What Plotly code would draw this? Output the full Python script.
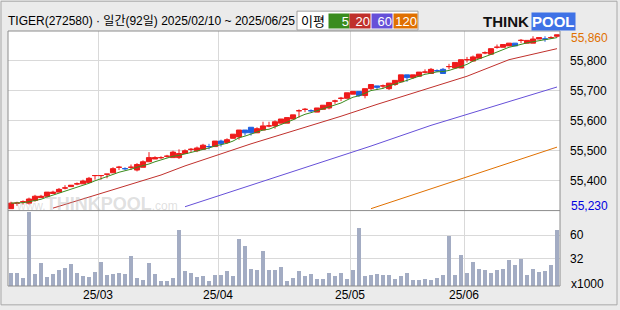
import pandas as pd
import plotly.graph_objects as go

# ---------------- data ----------------
HOLIDAYS = ["2025-03-03", "2025-05-01", "2025-05-05", "2025-05-06", "2025-06-03", "2025-06-06"]
DATES = [d for d in pd.bdate_range("2025-02-10", "2025-06-25") if d.strftime("%Y-%m-%d") not in HOLIDAYS]

OPEN = [55230, 55250, 55255, 55250, 55260, 55270, 55275, 55285, 55290, 55305,
        55310, 55320, 55320, 55325, 55350, 55350, 55355, 55360, 55380, 55375,
        55380, 55370, 55380, 55400, 55410, 55415, 55420, 55415, 55415, 55430,
        55445, 55440, 55445, 55455, 55455, 55475, 55470, 55485, 55490, 55515,
        55525, 55505, 55515, 55530, 55530, 55540, 55540, 55555, 55585, 55590,
        55585, 55580, 55590, 55595, 55620, 55630, 55630, 55645, 55655, 55640,
        55665, 55675, 55675, 55665, 55680, 55690, 55715, 55705, 55710, 55725,
        55720, 55730, 55735, 55745, 55740, 55740, 55770, 55765, 55775, 55795,
        55790, 55815, 55815, 55820, 55830, 55840, 55830, 55830, 55845, 55845,
        55850, 55855]
HIGH = [55255, 55255, 55260, 55270, 55280, 55280, 55290, 55295, 55305, 55315,
        55315, 55325, 55335, 55345, 55350, 55350, 55355, 55380, 55385, 55380,
        55390, 55395, 55405, 55435, 55420, 55420, 55425, 55440, 55445, 55445,
        55450, 55455, 55465, 55465, 55475, 55480, 55485, 55500, 55515, 55515,
        55525, 55525, 55545, 55545, 55550, 55555, 55560, 55570, 55590, 55595,
        55590, 55595, 55605, 55615, 55625, 55635, 55650, 55655, 55655, 55665,
        55680, 55675, 55680, 55685, 55695, 55715, 55715, 55715, 55725, 55735,
        55740, 55735, 55740, 55755, 55760, 55770, 55780, 55785, 55790, 55800,
        55810, 55825, 55825, 55830, 55830, 55845, 55840, 55855, 55850, 55855,
        55855, 55860]
LOW = [55230, 55240, 55245, 55245, 55255, 55270, 55270, 55285, 55290, 55300,
       55310, 55315, 55320, 55325, 55335, 55335, 55340, 55360, 55370, 55370,
       55370, 55365, 55380, 55400, 55410, 55410, 55415, 55415, 55410, 55430,
       55435, 55435, 55445, 55445, 55455, 55455, 55465, 55485, 55480, 55495,
       55495, 55505, 55515, 55525, 55520, 55540, 55540, 55555, 55560, 55580,
       55580, 55580, 55590, 55590, 55610, 55620, 55630, 55645, 55635, 55630,
       55660, 55660, 55665, 55660, 55675, 55690, 55690, 55700, 55710, 55720,
       55720, 55725, 55720, 55735, 55740, 55740, 55760, 55765, 55775, 55790,
       55790, 55810, 55815, 55820, 55820, 55830, 55830, 55830, 55845, 55835,
       55845, 55850]
CLOSE = [55250, 55250, 55255, 55265, 55275, 55275, 55290, 55290, 55300, 55305,
         55315, 55320, 55330, 55340, 55350, 55350, 55355, 55375, 55380, 55375,
         55380, 55390, 55400, 55415, 55415, 55415, 55420, 55435, 55430, 55440,
         55445, 55450, 55460, 55455, 55475, 55465, 55480, 55500, 55515, 55505,
         55505, 55520, 55530, 55530, 55545, 55555, 55560, 55570, 55585, 55590,
         55585, 55595, 55605, 55615, 55620, 55630, 55650, 55655, 55640, 55665,
         55680, 55670, 55675, 55685, 55695, 55715, 55705, 55715, 55725, 55725,
         55735, 55730, 55720, 55745, 55760, 55770, 55770, 55780, 55790, 55795,
         55810, 55815, 55825, 55830, 55820, 55840, 55840, 55845, 55850, 55845,
         55850, 55860]
VOLUME = [15.4, 15.4, 9.5, 87.8, 14.2, 27.3, 10.7, 14.2, 19.4, 21.4,
          26.1, 15.4, 12.6, 10.7, 16.6, 28.5, 13.0, 14.2, 15.4, 14.2,
          35.6, 9.5, 7.1, 27.3, 14.2, 5.9, 5.9, 9.5, 66.4, 17.8,
          15.4, 10.7, 11.9, 5.9, 13.0, 13.0, 17.8, 11.9, 55.8, 47.4,
          20.2, 19.0, 41.5, 19.0, 19.0, 22.5, 5.9, 9.5, 17.8, 11.9,
          14.2, 8.3, 8.3, 15.4, 11.9, 15.4, 8.3, 19.0, 68.8, 11.9,
          13.0, 14.2, 13.0, 13.0, 8.3, 11.9, 15.4, 7.1, 7.1, 8.3,
          7.1, 9.5, 13.0, 59.3, 13.0, 36.8, 15.4, 28.5, 20.2, 19.0,
          15.4, 19.0, 20.2, 30.8, 24.9, 32.0, 13.0, 20.2, 16.6, 17.8,
          24.9, 66.4]  # x1000

MA20_IDX = [7, 15, 25, 29, 40, 46, 55, 61, 70, 76, 83, 91]
MA20_VAL = [55232, 55285, 55352, 55385, 55465, 55505, 55565, 55608, 55670, 55710, 55770, 55810]
MA60_IDX = [29, 40, 50, 60, 70, 80, 91]
MA60_VAL = [55237, 55316, 55388, 55457, 55532, 55599, 55671]
MA120_IDX = [60, 70, 80, 91]
MA120_VAL = [55230, 55302, 55374, 55453]

PRICE_TICK_LABELS = ["55,400", "55,500", "55,600", "55,700", "55,800"]
VOL_TICKS = [32, 60]
TITLE = "TIGER(272580) · 일간(92일) 2025/02/10 ~ 2025/06/25"
MA_NAMES = ["5", "20", "60", "120"]

# ---------------- styling ----------------
W, H = 620, 310
L, R, T, B = 8, 560, 31, 288
SEP = 212
RED, BLUE = "#ee1b1b", "#1f5fe0"
C_MA = ["#3a8c1e", "#c0302c", "#6650d8", "#e07000"]
FONT = "Liberation Sans, Noto Sans CJK KR, sans-serif"
GRID = "#d9d9d9"

def px(X):
    return (X - L) / (R - L)

def py(Y):
    return (B - Y) / (B - T)

n = len(CLOSE)
idx = list(range(n))
ma5 = pd.Series(CLOSE).rolling(5, min_periods=1).mean().tolist()

PLO, PHI = 55223, 55874
VHI = 89

fig = go.Figure()
fig.add_trace(go.Candlestick(
    x=idx, open=OPEN, high=HIGH, low=LOW, close=CLOSE,
    increasing=dict(line=dict(color=RED, width=1), fillcolor=RED),
    decreasing=dict(line=dict(color=BLUE, width=1), fillcolor=BLUE),
    whiskerwidth=0, xaxis="x", yaxis="y", showlegend=False, hoverinfo="skip"))
fig.add_trace(go.Scatter(x=idx, y=ma5, mode="lines", line=dict(color=C_MA[0], width=1),
                         xaxis="x", yaxis="y", showlegend=False, hoverinfo="skip"))
for ix, vals, col in [(MA20_IDX, MA20_VAL, C_MA[1]), (MA60_IDX, MA60_VAL, C_MA[2]),
                      (MA120_IDX, MA120_VAL, C_MA[3])]:
    fig.add_trace(go.Scatter(x=ix, y=vals, mode="lines", line=dict(color=col, width=1),
                             xaxis="x", yaxis="y", showlegend=False, hoverinfo="skip"))
fig.add_trace(go.Bar(x=idx, y=VOLUME, marker=dict(color="#a3acc3", line=dict(width=0)),
                     width=0.72, xaxis="x2", yaxis="y2", showlegend=False, hoverinfo="skip"))

# month boundaries
month_pos, month_lab = [], []
for i in range(1, n):
    if DATES[i].month != DATES[i - 1].month:
        month_pos.append(i - 0.5)
        month_lab.append(DATES[i].strftime("%y/%m"))

dom_split = py(SEP)
xcommon = dict(range=[-0.5, n - 0.5], tickvals=month_pos, showgrid=True, gridcolor=GRID,
               gridwidth=1, zeroline=False, showline=False, ticks="", fixedrange=True)
price_tickvals = [PLO + (k / 6) * (PHI - PLO) for k in range(1, 6)]

fig.update_layout(
    width=W, height=H,
    margin=dict(l=L, r=W - R, t=T, b=H - B, pad=0),
    paper_bgcolor="#ebebeb", plot_bgcolor="#ffffff",
    font=dict(family=FONT, size=12, color="#000000"),
    bargap=0, boxgap=0.1, boxgroupgap=0.05,
    xaxis=dict(domain=[0, 1], anchor="y", showticklabels=False, **xcommon),
    xaxis2=dict(domain=[0, 1], anchor="y2", matches="x", ticktext=month_lab,
                showticklabels=True, tickfont=dict(size=12, color="#000"), **xcommon),
    yaxis=dict(domain=[dom_split, 1], range=[PLO, PHI], side="right", tickvals=price_tickvals,
               ticktext=PRICE_TICK_LABELS, showgrid=True, gridcolor=GRID, zeroline=False,
               ticks="", ticklabelstandoff=9, tickfont=dict(size=12), fixedrange=True),
    yaxis2=dict(domain=[0, dom_split], range=[0, VHI], side="right", tickvals=VOL_TICKS,
                showgrid=True, gridcolor=GRID, zeroline=False, ticks="",
                ticklabelstandoff=9, tickfont=dict(size=12), fixedrange=True),
    xaxis_rangeslider_visible=False,
)

shapes = []
# outer frame
shapes.append(dict(type="rect", xref="paper", yref="paper", x0=px(1), x1=px(617), y0=py(307), y1=py(1),
                   line=dict(color="#a8a8a8", width=1), layer="below"))
# plot frame and separator
shapes.append(dict(type="rect", xref="paper", yref="paper", x0=0, x1=1, y0=0, y1=1,
                   line=dict(color="#8c8c8c", width=1)))
shapes.append(dict(type="line", xref="paper", yref="paper", x0=0, x1=1, y0=dom_split, y1=dom_split,
                   line=dict(color="#8c8c8c", width=1)))
# legend box
shapes.append(dict(type="rect", xref="paper", yref="paper", x0=px(297), x1=px(418), y0=py(30), y1=py(11),
                   fillcolor="#ffffff", line=dict(color="#a0a0a0", width=1)))
fig.update_layout(shapes=shapes)

ann = []
ann.append(dict(text=TITLE, xref="paper", yref="paper", x=px(6), y=py(21), xanchor="left", yanchor="middle",
                showarrow=False, font=dict(size=12, color="#000")))
ann.append(dict(text="이평", xref="paper", yref="paper", x=px(299), y=py(21), xanchor="left", yanchor="middle",
                showarrow=False, font=dict(size=13, color="#000")))
box_x = [328, 349, 371, 393]
box_w = [20, 20, 20, 23]
for name, col, bx, bw in zip(MA_NAMES, C_MA, box_x, box_w):
    ann.append(dict(text=name, xref="paper", yref="paper", x=px(bx), y=py(21), xanchor="left",
                    yanchor="middle", showarrow=False, width=bw, height=14, align="right",
                    bgcolor=col, borderpad=0, font=dict(size=13, color="#fff")))
# logo
ann.append(dict(text="<b>THINK</b>", xref="paper", yref="paper", x=px(531), y=py(21), xanchor="right",
                yanchor="middle", showarrow=False, font=dict(size=15, color="#111", family="Liberation Sans")))
ann.append(dict(text="<b>POOL</b>", xref="paper", yref="paper", x=px(531), y=py(21), xanchor="left",
                yanchor="middle", showarrow=False, bgcolor="#3f72e6", borderpad=0,
                font=dict(size=15, color="#fff", family="Liberation Sans")))
# watermark
ann.append(dict(text="www.<b><span style='font-size:18px'>THINKPOOL</span></b>.com", xref="paper", yref="paper",
                x=px(97), y=py(205), xanchor="center", yanchor="middle", showarrow=False,
                font=dict(size=12, color="rgba(175,175,175,0.4)", family="Liberation Sans Narrow, Liberation Sans")))
# high / low labels
ann.append(dict(text=f"{max(HIGH):,}", xref="paper", yref="y", x=1, y=max(HIGH), xanchor="left",
                yanchor="middle", xshift=9, yshift=-3, showarrow=False, font=dict(size=12, color="#e07000")))
ann.append(dict(text=f"{min(LOW):,}", xref="paper", yref="y", x=1, y=min(LOW), xanchor="left",
                yanchor="middle", xshift=9, yshift=3, showarrow=False, font=dict(size=12, color="#0000e0")))
ann.append(dict(text="x1000", xref="paper", yref="paper", x=1, y=py(286), xanchor="left",
                yanchor="middle", xshift=9, showarrow=False, font=dict(size=12, color="#000")))
fig.update_layout(annotations=ann)

fig.write_html("out.html")
